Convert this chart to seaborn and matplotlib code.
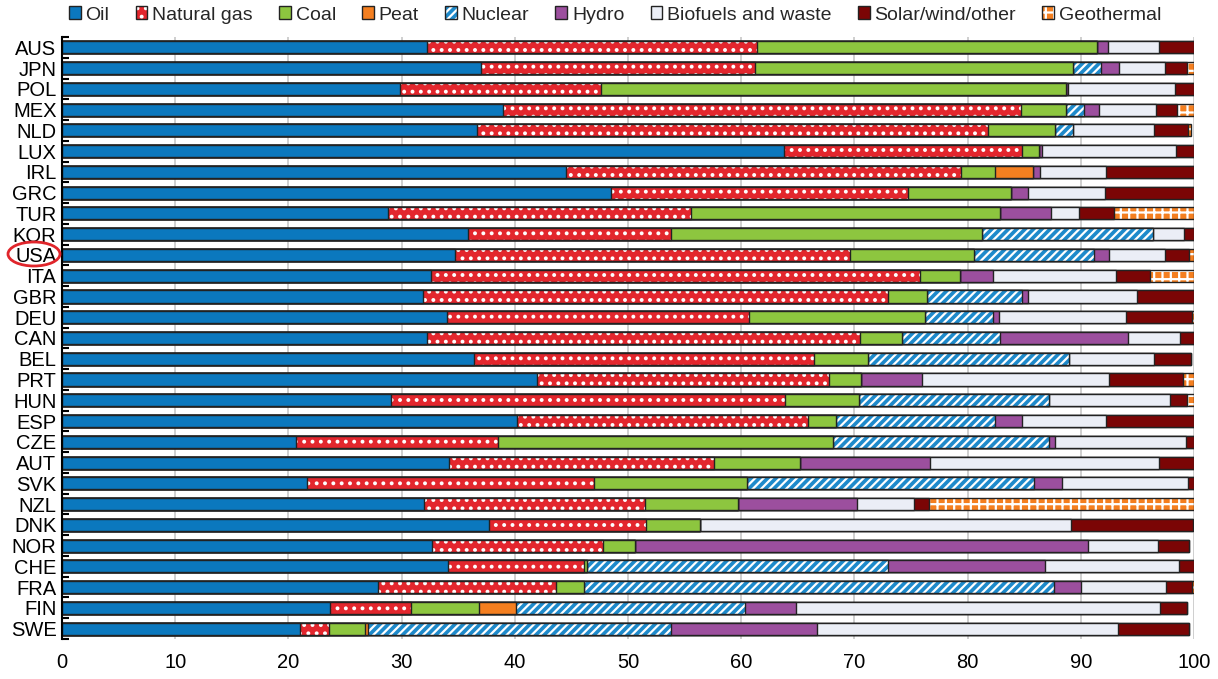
import numpy as np
import pandas as pd
import matplotlib
matplotlib.use("Agg")
import matplotlib.pyplot as plt
import seaborn as sns
from matplotlib import font_manager as fm
from matplotlib.patches import Patch, Rectangle, Ellipse
from matplotlib.legend_handler import HandlerTuple
from matplotlib.ticker import FixedLocator

countries = ["AUS", "JPN", "POL", "MEX", "NLD", "LUX", "IRL", "GRC", "TUR", "KOR",
             "USA", "ITA", "GBR", "DEU", "CAN", "BEL", "PRT", "HUN", "ESP", "CZE",
             "AUT", "SVK", "NZL", "DNK", "NOR", "CHE", "FRA", "FIN", "SWE"]

oil = [32.2, 37.0, 29.9, 39.0, 36.7, 63.8, 44.5, 48.5, 28.8, 35.9,
       34.7, 32.6, 31.9, 34.0, 32.2, 36.4, 42.0, 29.1, 40.2, 20.7,
       34.2, 21.6, 32.0, 37.7, 32.7, 34.1, 27.9, 23.7, 21.0]
natural_gas = [29.2, 24.2, 17.7, 45.7, 45.1, 21.0, 34.9, 26.2, 26.8, 17.9,
               34.9, 43.2, 41.1, 26.7, 38.3, 30.0, 25.8, 34.8, 25.7, 17.8,
               23.4, 25.4, 19.5, 13.9, 15.1, 12.0, 15.7, 7.1, 2.6]
coal = [30.0, 28.1, 41.1, 4.0, 5.9, 1.5, 3.0, 9.1, 27.3, 27.5,
        11.0, 3.5, 3.4, 15.5, 3.7, 4.8, 2.8, 6.5, 2.5, 29.6,
        7.6, 13.5, 8.2, 4.8, 2.8, 0.3, 2.5, 6.0, 3.2]
peat = [0, 0, 0, 0, 0, 0, 3.4, 0, 0, 0,
        0, 0, 0, 0, 0, 0, 0, 0, 0, 0,
        0, 0, 0, 0, 0, 0, 0, 3.3, 0.2]
nuclear = [0, 2.5, 0, 1.6, 1.6, 0, 0, 0, 0, 15.1,
           10.6, 0, 8.4, 6.0, 8.7, 17.8, 0, 16.8, 14.0, 19.1,
           0, 25.4, 0, 0, 0, 26.6, 41.5, 20.2, 26.8]
hydro = [1.0, 1.6, 0.2, 1.3, 0, 0.3, 0.6, 1.5, 4.5, 0,
         1.3, 2.9, 0.5, 0.6, 11.3, 0, 5.4, 0, 2.4, 0.5,
         11.5, 2.4, 10.5, 0, 40.0, 13.8, 2.4, 4.5, 12.9]
biofuels = [4.5, 4.0, 9.4, 5.0, 7.2, 11.8, 5.8, 6.8, 2.4, 2.7,
            4.9, 10.9, 9.7, 11.2, 4.6, 7.5, 16.5, 10.7, 7.4, 11.6,
            20.2, 11.2, 5.1, 32.7, 6.2, 11.9, 7.5, 32.2, 26.6]
solar_wind = [3.1, 2.0, 1.7, 1.9, 3.0, 1.6, 7.8, 7.9, 3.1, 0.9,
              2.2, 3.0, 5.0, 5.8, 1.2, 3.2, 6.5, 1.5, 7.8, 0.7,
              3.1, 0.5, 1.3, 10.8, 2.8, 1.3, 2.3, 2.4, 6.3]
geothermal = [0, 0.6, 0, 1.5, 0.2, 0, 0, 0, 7.1, 0,
              0.4, 3.9, 0, 0.2, 0, 0, 1.0, 0.6, 0, 0,
              0, 0, 23.4, 0, 0, 0, 0.2, 0, 0]

series_names = ["Oil", "Natural gas", "Coal", "Peat", "Nuclear", "Hydro",
                "Biofuels and waste", "Solar/wind/other", "Geothermal"]
series_values = [oil, natural_gas, coal, peat, nuclear, hydro, biofuels, solar_wind, geothermal]
colors = ["#0B78BE", "#E3262D", "#8DC63F", "#F47F20", "#1E8ACB", "#9C4F9E",
          "#EBEEF6", "#7B0505", "#F47F20"]
hatches = [None, "..", None, None, "////", None, None, None, "++"]

def pick(names):
    for n in names:
        try:
            fm.findfont(fm.FontProperties(family=n), fallback_to_default=False)
            return n
        except Exception:
            pass
    return "DejaVu Sans"

sns.set_theme(style="white")
font = pick(["Liberation Sans Narrow", "Arial Narrow", "Liberation Sans"])
plt.rcParams["font.family"] = [font, "DejaVu Sans"]
plt.rcParams["hatch.linewidth"] = 1.6

df = pd.DataFrame({n: v for n, v in zip(series_names, series_values)})
df.insert(0, "country", countries)
cum = df[series_names].cumsum(axis=1)

fig = plt.figure(figsize=(12.18, 6.79), dpi=100)
ax = fig.add_axes([62 / 1218, 1 - 639 / 679, (1194 - 62) / 1218, (639 - 37) / 679])

EDGE = "#222222"
BW = 0.58
for k in range(len(series_names) - 1, -1, -1):
    name = series_names[k]
    tmp = pd.DataFrame({"country": countries, "val": cum[name].values})
    n0 = len(ax.patches)
    if hatches[k]:
        sns.barplot(data=tmp, x="val", y="country", orient="h", color=colors[k],
                    saturation=1, width=BW, edgecolor="white", linewidth=0,
                    hatch=hatches[k], ax=ax, errorbar=None)
        new = ax.patches[n0:]
        for p in list(new):
            ax.add_patch(Rectangle(p.get_xy(), p.get_width(), p.get_height(),
                                   fill=False, edgecolor=EDGE, linewidth=1.0))
    else:
        sns.barplot(data=tmp, x="val", y="country", orient="h", color=colors[k],
                    saturation=1, width=BW, edgecolor=EDGE, linewidth=1.0,
                    ax=ax, errorbar=None)

ax.set_xlim(0, 100)
ax.set_ylim(len(countries) - 0.5, -0.5)
ax.set_xticks(np.arange(0, 101, 10))
ax.set_xlabel("")
ax.set_ylabel("")
ax.grid(axis="x", color="#CCCCCC", linewidth=1.3)
ax.grid(axis="y", visible=False)
ax.set_axisbelow(True)
for s in ["top", "right", "bottom"]:
    ax.spines[s].set_visible(False)
ax.spines["left"].set_color("black")
ax.spines["left"].set_linewidth(1.5)
ax.tick_params(axis="x", length=0, pad=10, labelsize=14.5, colors="black")
ax.tick_params(axis="y", which="major", length=0, pad=4, labelsize=14.5, colors="black")
ax.yaxis.set_minor_locator(FixedLocator(np.arange(-0.5, len(countries), 1.0)))
ax.tick_params(axis="y", which="minor", direction="in", length=5, width=1.5, color="black", left=True)

# legend
handles = []
for k, name in enumerate(series_names):
    if hatches[k]:
        h = (Patch(facecolor=colors[k], edgecolor="white", hatch=hatches[k], linewidth=0),
             Patch(facecolor="none", edgecolor=EDGE, linewidth=1.0))
    else:
        h = Patch(facecolor=colors[k], edgecolor=EDGE, linewidth=1.0)
    handles.append(h)
fig.legend(handles, series_names, loc="center", bbox_to_anchor=(0.505, 1 - 15 / 679),
           ncol=9, frameon=False, fontsize=14, handlelength=0.6, handleheight=0.6,
           handletextpad=0.25, columnspacing=1.35, borderaxespad=0,
           handler_map={tuple: HandlerTuple(ndivide=1, pad=0)})

fig.add_artist(Ellipse((34 / 1218, 1 - 254 / 679), 52 / 1218, 24 / 679,
                       transform=fig.transFigure, fill=False, edgecolor="#E0252B",
                       linewidth=2))

fig.savefig("out.png", dpi=100)
